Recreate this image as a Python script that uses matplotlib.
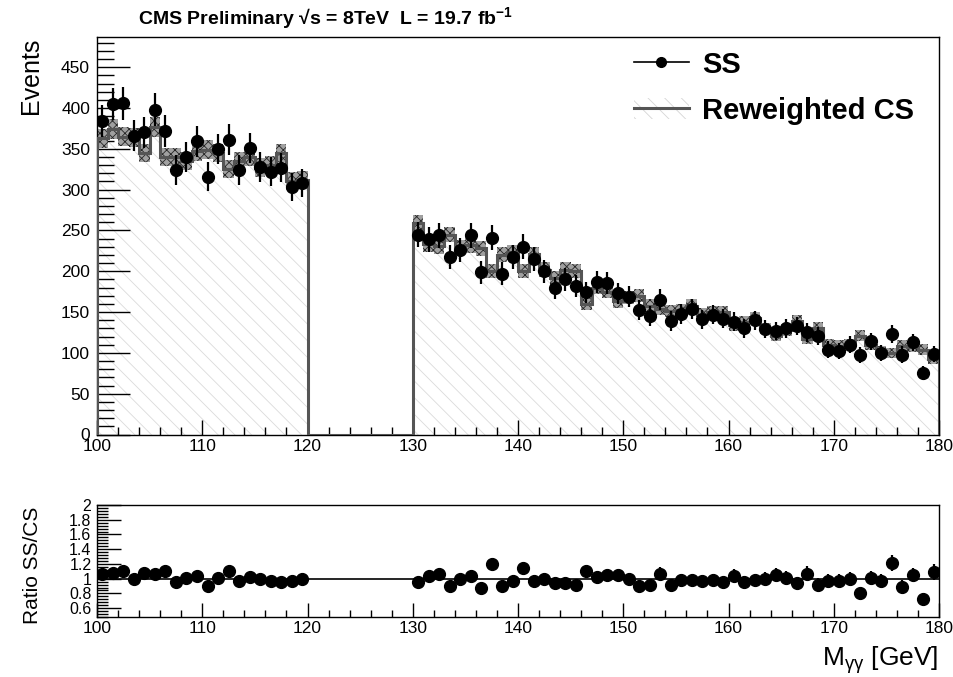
import numpy as np
import matplotlib
matplotlib.use("Agg")
import matplotlib.pyplot as plt
from matplotlib.ticker import MultipleLocator
from matplotlib.lines import Line2D
from matplotlib.patches import Patch

plt.rcParams['font.family'] = ['Liberation Sans', 'DejaVu Sans']
plt.rcParams['mathtext.fontset'] = 'custom'
plt.rcParams['mathtext.rm'] = 'Liberation Sans'
plt.rcParams['mathtext.it'] = 'Liberation Sans:italic'
plt.rcParams['mathtext.bf'] = 'Liberation Sans:bold'
plt.rcParams['hatch.linewidth'] = 0.6

# ---------------- data ----------------
mass_left = np.arange(100.5, 120.0, 1.0)     # bin centres 100-120
mass_right = np.arange(130.5, 180.0, 1.0)    # bin centres 130-180

ss_left = [384, 405, 406, 366, 370, 398, 372, 324, 340, 359,
           316, 350, 361, 324, 351, 328, 322, 327, 303, 308]
ss_right = [245, 239, 244, 218, 226, 244, 199, 241, 197, 218,
            230, 215, 200, 180, 190, 182, 174, 187, 186, 173,
            169, 152, 145, 165, 139, 148, 154, 141, 147, 142,
            138, 130, 140, 129, 127, 130, 133, 125, 121, 104,
            102, 110, 97, 114, 100, 123, 98, 113, 75, 99]

cs_left = [363, 374, 365, 364, 345, 377, 340, 340, 335, 347,
           349, 345, 325, 335, 340, 327, 330, 345, 311, 312]
cs_right = [259, 233, 231, 245, 229, 232, 228, 200, 220, 223,
            200, 221, 202, 192, 202, 200, 160, 180, 175, 163,
            168, 170, 158, 154, 151, 152, 158, 147, 150, 150,
            134, 138, 143, 130, 121, 128, 139, 117, 131, 110,
            109, 111, 121, 110, 102, 100, 109, 107, 104, 92]

ratio_left = [1.06, 1.08, 1.11, 1.0, 1.075, 1.06, 1.1, 0.95, 1.01, 1.04,
              0.9, 1.01, 1.11, 0.97, 1.02, 1.0, 0.97, 0.95, 0.97, 0.99]
ratio_right = [0.95, 1.03, 1.06, 0.9, 0.99, 1.04, 0.87, 1.2, 0.9, 0.97,
               1.15, 0.97, 1.0, 0.94, 0.94, 0.91, 1.1, 1.02, 1.05, 1.05,
               1.0, 0.9, 0.91, 1.07, 0.92, 0.98, 0.98, 0.965, 0.98, 0.95,
               1.04, 0.95, 0.98, 1.0, 1.05, 1.01, 0.94, 1.07, 0.92, 0.965,
               0.965, 0.99, 0.8, 1.01, 0.965, 1.21, 0.89, 1.05, 0.72, 1.09]

x_ticks = [100, 110, 120, 130, 140, 150, 160, 170, 180]
y_ticks_top = [0, 50, 100, 150, 200, 250, 300, 350, 400, 450]
y_ticks_ratio = [0.6, 0.8, 1.0, 1.2, 1.4, 1.6, 1.8, 2.0]

# ---------------- derived ----------------
mass = np.concatenate([mass_left, mass_right])
ss = np.array(ss_left + ss_right, dtype=float)
cs = np.array(cs_left + cs_right, dtype=float)
ratio = np.array(ratio_left + ratio_right)
ss_err = np.sqrt(ss)
cs_err = 0.62 * np.sqrt(cs)
ratio_err = np.sqrt(ss) / cs

edges = np.arange(100, 181, 1)
cs_full = np.zeros(80)
cs_full[0:20] = cs_left
cs_full[30:80] = cs_right

# ---------------- figure ----------------
fig = plt.figure(figsize=(9.54, 6.77), dpi=100)
ax = fig.add_axes([97/954, 1-434.5/677, 842/954, 397.5/677])
axr = fig.add_axes([97/954, 1-617/677, 842/954, 112/677])

# hatched fill of CS histogram
ax.stairs(cs_full, edges, fill=True, facecolor='none', edgecolor='#dadada',
          hatch='\\\\', linewidth=0, zorder=1)
# band (uncertainty)
ax.bar(mass, 2*cs_err, bottom=cs-cs_err, width=1.0, facecolor='#a0a0a0',
       edgecolor='#262626', hatch='xxxx', linewidth=0, zorder=2)
# step line
ax.stairs(cs_full, edges, color='#555555', linewidth=2.2, zorder=3)
# SS points
ax.errorbar(mass, ss, yerr=ss_err, fmt='o', color='black', ms=8.5,
            elinewidth=1.6, capsize=0, zorder=4)

ax.set_xlim(100, 180)
ax.set_ylim(0, 487)
ax.set_xticks(x_ticks)
ax.set_yticks(y_ticks_top)
ax.xaxis.set_minor_locator(MultipleLocator(2))
ax.yaxis.set_minor_locator(MultipleLocator(10))
ax.tick_params(axis='both', which='both', direction='in', labelsize=12.5)
ax.tick_params(axis='x', which='major', length=11, width=1, pad=3)
ax.tick_params(axis='x', which='minor', length=6, width=1)
ax.tick_params(axis='y', which='major', length=24, width=1, pad=5)
ax.tick_params(axis='y', which='minor', length=12, width=1)
for s in ax.spines.values():
    s.set_linewidth(1.0)

# legend
h_ss = Line2D([], [], color='black', marker='o', ms=7, lw=1.2)
h_cs = (Patch(facecolor='none', edgecolor='#d5d5d5', hatch='\\\\', linewidth=0),
        Line2D([], [], color='#555555', lw=2.2))
leg = ax.legend([h_ss, h_cs], ['SS', 'Reweighted CS'],
                loc='upper left', bbox_to_anchor=(619/954, 1-36/677),
                bbox_transform=fig.transFigure, frameon=False,
                prop={'weight': 'bold', 'size': 21}, handlelength=1.9,
                handletextpad=0.45, labelspacing=0.62, borderpad=0)

# ratio panel
axr.axhline(1.0, color='black', lw=1.2, zorder=1)
axr.errorbar(mass, ratio, yerr=ratio_err, fmt='o', color='black', ms=8.5,
             elinewidth=1.6, capsize=0, zorder=3)
axr.set_xlim(100, 180)
axr.set_ylim(0.48, 2.0)
axr.set_xticks(x_ticks)
axr.set_yticks(y_ticks_ratio)
axr.set_yticklabels(['0.6', '0.8', '1', '1.2', '1.4', '1.6', '1.8', '2'])
axr.xaxis.set_minor_locator(MultipleLocator(2))
axr.yaxis.set_minor_locator(MultipleLocator(0.04))
axr.tick_params(axis='both', which='both', direction='in', labelsize=12.5)
axr.tick_params(axis='x', which='major', length=10, width=1, pad=3)
axr.tick_params(axis='x', which='minor', length=5, width=1)
axr.tick_params(axis='y', which='major', length=17, width=1, pad=4, labelsize=11.5)
axr.tick_params(axis='y', which='minor', length=8, width=1)
for s in axr.spines.values():
    s.set_linewidth(1.0)

# texts
fig.text(138/954, 1-18/677, r'CMS Preliminary √s = 8TeV  L = 19.7 fb$^{\mathbf{-1}}$',
         fontsize=14, fontweight='bold', va='center', ha='left')
fig.text(31/954, 1-38/677, 'Events', rotation=90, va='top', ha='center', fontsize=18)
fig.text(33/954, 1-565/677, 'Ratio SS/CS', rotation=90, va='center', ha='center', fontsize=15)
fig.text(938/954, 1-660/677, r'M$_{\mathrm{γγ}}$ [GeV]', ha='right', va='center', fontsize=19)

fig.savefig('out.png', dpi=100)
